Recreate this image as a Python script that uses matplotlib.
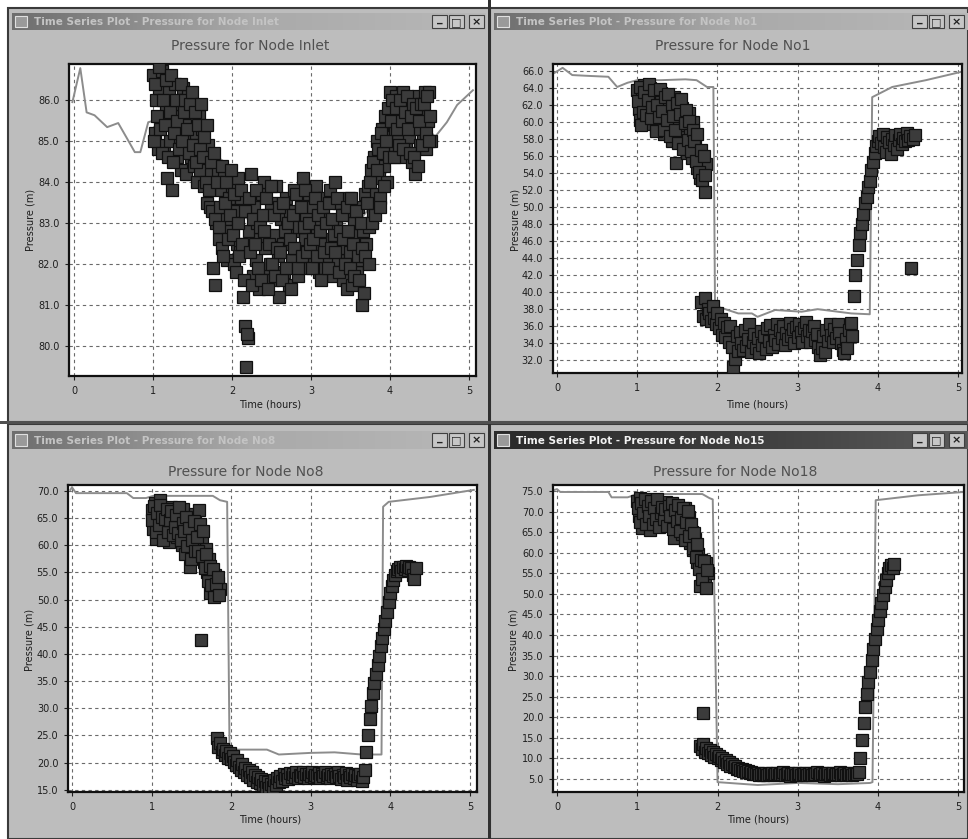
import numpy as np
import matplotlib
matplotlib.use("Agg")
import matplotlib.pyplot as plt
from matplotlib.patches import Rectangle
from matplotlib.colors import LinearSegmentedColormap
from matplotlib.ticker import FormatStrFormatter

# ---------------- data ----------------
hours_ticks = [0, 1, 2, 3, 4, 5]

# Node Inlet
inlet_sim_t = [-0.02, 0.08, 0.16, 0.26, 0.42, 0.56, 0.67, 0.77, 0.84, 0.94, 1.2, 1.5, 1.9,
               2.1, 2.5, 3.0, 3.5, 3.8, 4.1, 4.4, 4.57, 4.72, 4.85, 5.05]
inlet_sim_p = [85.95, 86.78, 85.7, 85.63, 85.34, 85.44, 85.07, 84.73, 84.73, 85.46, 85.6, 85.0, 84.5,
               83.2, 82.8, 82.9, 82.8, 83.5, 85.0, 85.5, 85.1, 85.46, 85.88, 86.24]
inlet_obs_t = [
    1.00, 1.02, 1.04, 1.06, 1.08, 1.10, 1.12, 1.14, 1.16, 1.18,
    1.20, 1.22, 1.24, 1.26, 1.28, 1.30, 1.32, 1.34, 1.36, 1.38,
    1.40, 1.42, 1.44, 1.46, 1.48, 1.50, 1.52, 1.54, 1.56, 1.58,
    1.60, 1.62, 1.64, 1.66, 1.68, 1.70, 1.72, 1.74, 1.76, 1.78,
    1.80, 1.82, 1.84, 1.86, 1.88, 1.90, 1.92, 1.94, 1.96, 1.98,
    2.00, 2.02, 2.04, 2.06, 2.08, 2.10, 2.12, 2.14, 2.16, 2.18,
    2.20, 2.22, 2.24, 2.26, 2.28, 2.30, 2.32, 2.34, 2.36, 2.38,
    2.40, 2.42, 2.44, 2.46, 2.48, 2.50, 2.52, 2.54, 2.56, 2.58,
    2.60, 2.62, 2.64, 2.66, 2.68, 2.70, 2.72, 2.74, 2.76, 2.78,
    2.80, 2.82, 2.84, 2.86, 2.88, 2.90, 2.92, 2.94, 2.96, 2.98,
    3.00, 3.02, 3.04, 3.06, 3.08, 3.10, 3.12, 3.14, 3.16, 3.18,
    3.20, 3.22, 3.24, 3.26, 3.28, 3.30, 3.32, 3.34, 3.36, 3.38,
    3.40, 3.42, 3.44, 3.46, 3.48, 3.50, 3.52, 3.54, 3.56, 3.58,
    3.60, 3.62, 3.64, 3.66, 3.68, 3.70, 3.72, 3.74, 3.76, 3.78,
    3.80, 3.82, 3.84, 3.86, 3.88, 3.90, 3.92, 3.94, 3.96, 3.98,
    4.00, 4.02, 4.04, 4.06, 4.08, 4.10, 4.12, 4.14, 4.16, 4.18,
    4.20, 4.22, 4.24, 4.26, 4.28, 4.30, 4.32, 4.34, 4.36, 4.38,
    4.40, 4.42, 4.44, 4.46, 4.48, 4.50, 4.52]
inlet_obs_p = [
    86.6, 85.2, 86.0, 84.8, 86.3, 85.5, 86.7, 84.9, 85.8, 84.1,
    86.2, 85.0, 83.8, 85.6, 86.4, 84.6, 85.9, 85.1, 84.3, 86.3,
    85.4, 84.2, 86.1, 85.0, 84.6, 85.8, 84.4, 85.2, 84.0, 85.6,
    84.3, 85.3, 83.9, 84.8, 83.5, 84.9, 83.4, 84.2, 81.9, 81.5,
    83.0, 84.3, 82.6, 83.8, 82.4, 84.2, 83.1, 82.1, 83.6, 82.8,
    83.9, 82.0, 83.3, 82.5, 84.1, 82.3, 83.6, 81.2, 80.5, 79.5,
    80.2, 82.8, 84.2, 81.7, 83.4, 82.1, 83.0, 81.4, 82.6, 83.7,
    84.0, 82.4, 81.9, 83.2, 82.0, 83.5, 81.6, 82.7, 83.9, 82.2,
    81.2, 83.1, 82.5, 81.8, 83.6, 82.9, 81.5, 83.3, 82.1, 83.8,
    82.4, 83.0, 81.7, 82.8, 83.5, 84.1, 82.6, 83.2, 81.9, 83.7,
    82.3, 83.4, 82.0, 83.9, 82.7, 81.8, 83.1, 82.5, 83.6, 81.9,
    83.0, 82.2, 83.8, 82.6, 81.7, 84.0, 82.9, 82.1, 83.5, 82.4,
    81.6, 83.2, 82.0, 81.4, 83.6, 82.3, 81.5, 83.0, 82.7, 81.8,
    83.4, 82.1, 81.0, 82.8, 83.7, 82.5, 83.9, 82.9, 84.3, 83.3,
    84.6, 83.7, 85.0, 84.1, 83.6, 85.3, 84.4, 85.6, 84.0, 85.1,
    86.2, 84.8, 85.7, 85.2, 86.1, 85.0, 85.9, 84.6, 86.2, 85.4,
    84.8, 85.8, 85.1, 86.0, 84.5, 85.6, 84.2, 85.3, 86.1, 84.9,
    85.7, 85.0, 86.2, 84.8, 85.5, 86.2, 85.0]
inlet_obs2_t = [
    1.01, 1.03, 1.05, 1.07, 1.09, 1.11, 1.13, 1.15, 1.17, 1.19,
    1.21, 1.23, 1.25, 1.27, 1.29, 1.31, 1.33, 1.35, 1.37, 1.39,
    1.41, 1.43, 1.45, 1.47, 1.49, 1.51, 1.53, 1.55, 1.57, 1.59,
    1.61, 1.63, 1.65, 1.67, 1.69, 1.71, 1.73, 1.75, 1.77, 1.79,
    1.81, 1.83, 1.85, 1.87, 1.89, 1.91, 1.93, 1.95, 1.97, 1.99,
    2.01, 2.03, 2.05, 2.07, 2.09, 2.11, 2.13, 2.15, 2.17, 2.19,
    2.21, 2.23, 2.25, 2.27, 2.29, 2.31, 2.33, 2.35, 2.37, 2.39,
    2.41, 2.43, 2.45, 2.47, 2.49, 2.51, 2.53, 2.55, 2.57, 2.59,
    2.61, 2.63, 2.65, 2.67, 2.69, 2.71, 2.73, 2.75, 2.77, 2.79,
    2.81, 2.83, 2.85, 2.87, 2.89, 2.91, 2.93, 2.95, 2.97, 2.99,
    3.01, 3.03, 3.05, 3.07, 3.09, 3.11, 3.13, 3.15, 3.17, 3.19,
    3.21, 3.23, 3.25, 3.27, 3.29, 3.31, 3.33, 3.35, 3.37, 3.39,
    3.41, 3.43, 3.45, 3.47, 3.49, 3.51, 3.53, 3.55, 3.57, 3.59,
    3.61, 3.63, 3.65, 3.67, 3.69, 3.71, 3.73, 3.75, 3.77, 3.79,
    3.81, 3.83, 3.85, 3.87, 3.89, 3.91, 3.93, 3.95, 3.97, 3.99,
    4.01, 4.03, 4.05, 4.07, 4.09, 4.11, 4.13, 4.15, 4.17, 4.19,
    4.21, 4.23, 4.25, 4.27, 4.29, 4.31, 4.33, 4.35, 4.37, 4.39,
    4.41, 4.43, 4.45, 4.47, 4.49, 4.51]
inlet_obs2_p = [
    85.0, 86.4, 85.6, 86.8, 85.3, 84.7, 86.0, 85.4, 86.5, 84.6,
    85.7, 86.6, 84.5, 85.2, 86.0, 85.5, 84.8, 86.4, 85.0, 85.7,
    86.0, 85.3, 84.7, 85.9, 86.2, 84.9, 85.7, 84.5, 85.4, 84.8,
    85.9, 84.6, 85.1, 84.0, 85.4, 83.8, 84.5, 83.3, 84.7, 83.1,
    84.0, 82.9, 83.4, 84.4, 82.2, 83.5, 84.0, 82.6, 83.2, 84.3,
    82.7, 83.7, 81.8, 83.0, 82.2, 83.8, 82.5, 81.6, 83.3, 80.3,
    83.6, 82.3, 81.5, 83.1, 82.5, 83.8, 81.9, 82.9, 81.6, 83.2,
    82.8, 83.6, 81.4, 82.5, 83.9, 82.0, 83.2, 81.7, 82.4, 83.4,
    82.3, 81.6, 83.5, 82.8, 81.9, 83.0, 82.6, 81.4, 83.2, 82.4,
    83.7, 81.9, 82.9, 83.4, 82.2, 82.9, 83.8, 82.3, 83.0, 82.5,
    81.9, 82.6, 83.6, 82.2, 83.2, 82.8, 81.6, 83.4, 82.3, 83.0,
    81.9, 83.5, 82.4, 83.1, 82.7, 82.3, 83.6, 81.8, 82.8, 83.2,
    82.6, 82.0, 83.4, 82.8, 81.9, 83.6, 82.5, 81.7, 83.3, 82.2,
    81.6, 83.0, 82.4, 81.3, 82.2, 83.5, 82.0, 84.0, 83.0, 84.5,
    83.2, 84.3, 84.8, 83.4, 85.2, 84.7, 83.9, 85.0, 85.8, 84.6,
    85.5, 86.0, 84.6, 85.8, 85.3, 84.9, 86.0, 85.5, 84.8, 85.7,
    86.1, 85.3, 84.7, 85.6, 85.9, 84.6, 85.8, 84.4, 85.5, 85.9,
    84.9, 85.9, 85.2, 86.1, 85.0, 85.6]

# Node No1
no1_sim_t = [-0.03, 0.07, 0.19, 0.40, 0.64, 0.75, 0.88, 1.0, 1.3, 1.6, 1.74, 1.87, 1.95, 1.97,
             2.0, 2.26, 2.43, 2.5, 2.72, 3.05, 3.25, 3.67, 3.90, 3.93, 4.18, 4.6, 5.05]
no1_sim_p = [65.76, 66.35, 65.5, 65.4, 65.3, 64.1, 64.6, 64.9, 64.9, 65.0, 64.9, 64.1, 64.1, 38.5,
             38.3, 37.5, 37.5, 37.1, 37.9, 37.7, 38.0, 37.5, 37.4, 62.9, 64.1, 64.9, 65.9]
no1_obs_t = [
    1.00, 1.02, 1.04, 1.06, 1.08, 1.10, 1.12, 1.14, 1.16, 1.18,
    1.20, 1.22, 1.24, 1.26, 1.28, 1.30, 1.32, 1.34, 1.36, 1.38,
    1.40, 1.42, 1.44, 1.46, 1.48, 1.50, 1.52, 1.54, 1.56, 1.58,
    1.60, 1.62, 1.64, 1.66, 1.68, 1.70, 1.72, 1.74, 1.76, 1.78,
    1.80, 1.82, 1.84, 1.86,
    1.80, 1.82, 1.84, 1.86, 1.88, 1.90, 1.92, 1.94, 1.96, 1.98,
    2.00, 2.02, 2.04, 2.06, 2.08, 2.10, 2.12, 2.14, 2.16, 2.18,
    2.20, 2.22, 2.24, 2.26, 2.28, 2.30, 2.32, 2.34, 2.36, 2.38,
    2.40, 2.42, 2.44, 2.46, 2.48, 2.50, 2.52, 2.54, 2.56, 2.58,
    2.60, 2.62, 2.64, 2.66, 2.68, 2.70, 2.72, 2.74, 2.76, 2.78,
    2.80, 2.82, 2.84, 2.86, 2.88, 2.90, 2.92, 2.94, 2.96, 2.98,
    3.00, 3.02, 3.04, 3.06, 3.08, 3.10, 3.12, 3.14, 3.16, 3.18,
    3.20, 3.22, 3.24, 3.26, 3.28, 3.30, 3.32, 3.34, 3.36, 3.38,
    3.40, 3.42, 3.44, 3.46, 3.48, 3.50, 3.52, 3.54, 3.56, 3.58,
    3.60, 3.62, 3.64, 3.66, 3.68, 3.70, 3.72, 3.74, 3.76, 3.78,
    3.80, 3.82, 3.84, 3.86, 3.88, 3.90, 3.92, 3.94, 3.96, 3.98,
    4.00, 4.02, 4.04, 4.06, 4.08, 4.10, 4.12, 4.14, 4.16, 4.18,
    4.20, 4.22, 4.24, 4.26, 4.28, 4.30, 4.32, 4.34, 4.36, 4.38,
    4.40, 4.42, 4.44, 4.46]
no1_obs_p = [
    63.8, 61.5, 60.2, 62.7, 64.3, 63.0, 59.8, 61.9, 64.0, 62.2,
    60.5, 63.1, 59.2, 61.4, 62.8, 63.4, 60.0, 58.6, 61.7, 62.5,
    59.4, 61.0, 57.8, 62.9, 55.2, 60.3, 62.4, 58.2, 61.6, 57.0,
    59.6, 56.3, 61.0, 58.7, 55.8, 60.0, 57.4, 54.6, 56.2, 53.4,
    55.5, 54.0, 51.8, 55.0,
    38.8, 37.2, 39.3, 36.8, 38.0, 37.5, 36.6, 38.4, 37.0, 36.3,
    37.6, 35.8, 36.9, 35.0, 36.4, 34.7, 35.9, 34.2, 36.0, 33.5,
    31.2, 32.2, 34.8, 33.1, 35.3, 34.0, 33.2, 35.6, 33.7, 34.5,
    36.2, 33.0, 34.1, 35.1, 33.4, 34.6, 32.9, 35.4, 33.8, 34.9,
    33.3, 35.8, 34.3, 36.1, 33.6, 35.0, 34.4, 36.3, 33.9, 35.5,
    34.6, 36.0, 33.8, 35.2, 34.5, 36.4, 34.9, 35.7, 34.0, 35.9,
    34.7, 36.2, 35.3, 34.2, 35.8, 36.5, 34.8, 35.6, 34.1, 35.4,
    36.0, 34.4, 35.1, 33.6, 32.6, 33.4, 34.9, 33.0, 35.5, 34.3,
    36.2, 35.0, 34.1, 35.7, 34.6, 36.3, 35.2, 34.0, 33.2, 32.9,
    34.5, 33.4, 35.6, 36.4, 34.8, 39.5, 42.0, 43.8, 45.5, 47.0,
    48.0, 49.2, 50.5, 51.2, 52.3, 53.0, 54.4, 55.3, 56.4, 57.2,
    57.8, 58.3, 57.5, 58.6, 57.0, 56.5, 58.2, 57.6, 56.2, 58.0,
    57.3, 58.5, 56.8, 57.9, 58.6, 57.4, 58.1, 57.7, 58.7, 57.9,
    58.4, 42.8, 58.0, 58.5]
no1_obs2_t = [
    1.01, 1.03, 1.05, 1.07, 1.09, 1.11, 1.13, 1.15, 1.17, 1.19,
    1.21, 1.23, 1.25, 1.27, 1.29, 1.31, 1.33, 1.35, 1.37, 1.39,
    1.41, 1.43, 1.45, 1.47, 1.49, 1.51, 1.53, 1.55, 1.57, 1.59,
    1.61, 1.63, 1.65, 1.67, 1.69, 1.71, 1.73, 1.75, 1.77, 1.79,
    1.81, 1.83, 1.85]
no1_obs2_p = [
    62.4, 64.1, 59.6, 61.2, 63.5, 60.8, 62.6, 64.5, 60.4, 61.8,
    63.7, 58.9, 62.0, 60.6, 63.9, 61.3, 59.1, 62.9, 60.2, 63.3,
    58.3, 61.9, 60.7, 59.0, 62.2, 57.5, 60.9, 62.7, 56.8, 59.9,
    61.4, 57.9, 60.1, 56.6, 59.1, 57.8, 55.4, 58.6, 54.1, 56.7,
    53.2, 56.0, 53.8]

# Node No8
no8_sim_t = [-0.02, 0.0, 0.05, 0.69, 0.77, 0.93, 1.02, 1.77, 1.86, 1.95, 1.98, 2.45, 2.6,
             3.0, 3.3, 3.64, 3.89, 3.91, 3.98, 4.5, 5.05]
no8_sim_p = [70.2, 70.7, 69.6, 69.6, 68.7, 68.7, 69.1, 69.1, 68.3, 68.0, 22.4, 22.4, 21.5,
             21.8, 21.9, 21.5, 21.5, 67.1, 68.0, 68.9, 70.2]
no8_obs_t = [
    1.00, 1.02, 1.04, 1.06, 1.08, 1.10, 1.12, 1.14, 1.16, 1.18,
    1.20, 1.22, 1.24, 1.26, 1.28, 1.30, 1.32, 1.34, 1.36, 1.38,
    1.40, 1.42, 1.44, 1.46, 1.48, 1.50, 1.52, 1.54, 1.56, 1.58,
    1.60, 1.62, 1.64, 1.66, 1.68, 1.70, 1.72, 1.74, 1.76, 1.78,
    1.80, 1.82, 1.84, 1.86,
    1.82, 1.84, 1.86, 1.88, 1.90, 1.92, 1.94, 1.96, 1.98, 2.00,
    2.02, 2.04, 2.06, 2.08, 2.10, 2.12, 2.14, 2.16, 2.18, 2.20,
    2.22, 2.24, 2.26, 2.28, 2.30, 2.32, 2.34, 2.36, 2.38, 2.40,
    2.42, 2.44, 2.46, 2.48, 2.50, 2.52, 2.54, 2.56, 2.58, 2.60,
    2.62, 2.64, 2.66, 2.68, 2.70, 2.72, 2.74, 2.76, 2.78, 2.80,
    2.82, 2.84, 2.86, 2.88, 2.90, 2.92, 2.94, 2.96, 2.98, 3.00,
    3.02, 3.04, 3.06, 3.08, 3.10, 3.12, 3.14, 3.16, 3.18, 3.20,
    3.22, 3.24, 3.26, 3.28, 3.30, 3.32, 3.34, 3.36, 3.38, 3.40,
    3.42, 3.44, 3.46, 3.48, 3.50, 3.52, 3.54, 3.56, 3.58, 3.60,
    3.62, 3.64, 3.66, 3.68, 3.70, 3.72, 3.74, 3.76, 3.78, 3.80,
    3.82, 3.84, 3.86, 3.88, 3.90, 3.92, 3.94, 3.96, 3.98, 4.00,
    4.02, 4.04, 4.06, 4.08, 4.10, 4.12, 4.14, 4.16, 4.18, 4.20,
    4.22, 4.24, 4.26, 4.28, 4.30, 4.32]
no8_obs_p = [
    66.5, 63.0, 67.8, 61.2, 65.4, 68.3, 64.0, 62.3, 66.8, 63.7,
    65.9, 60.6, 67.0, 62.8, 64.8, 66.2, 61.5, 65.0, 63.3, 60.0,
    66.6, 58.4, 64.2, 61.8, 56.0, 63.5, 59.5, 65.7, 57.8, 62.0,
    66.5, 42.6, 60.8, 56.9, 59.3, 55.0, 57.5, 51.2, 53.9, 52.2,
    54.6, 50.8, 53.0, 51.9,
    24.5, 22.8, 23.7, 21.9, 22.6, 21.4, 22.2, 20.9, 21.7, 20.6,
    21.3, 20.1, 19.6, 20.4, 19.2, 18.7, 19.8, 18.3, 19.0, 17.8,
    18.6, 17.4, 18.2, 16.9, 17.7, 16.5, 17.3, 16.2, 17.0, 15.8,
    16.6, 15.6, 16.4, 15.3, 16.1, 15.5, 16.8, 15.9, 17.2, 16.4,
    17.6, 16.7, 17.9, 17.1, 17.8, 17.0, 18.1, 17.3, 17.9, 17.4,
    18.2, 17.2, 17.8, 17.5, 18.3, 17.4, 17.9, 17.1, 18.0, 17.6,
    18.2, 17.3, 17.8, 17.5, 18.1, 17.2, 17.9, 17.6, 18.3, 17.4,
    17.8, 17.1, 18.0, 17.5, 17.9, 17.3, 18.2, 17.6, 17.0, 17.8,
    17.4, 18.1, 16.9, 17.7, 17.3, 18.0, 17.2, 17.8, 16.8, 17.5,
    17.9, 16.7, 17.4, 18.6, 22.0, 25.0, 28.0, 30.4, 32.9, 34.6,
    36.3, 38.0, 39.6, 41.5, 43.0, 44.6, 46.0, 47.8, 49.6, 51.2,
    52.6, 53.6, 54.5, 55.2, 55.7, 56.0, 55.3, 56.1, 55.6, 56.2,
    55.4, 56.0, 55.8, 54.6, 53.8, 55.9]
no8_obs2_t = [
    1.01, 1.03, 1.05, 1.07, 1.09, 1.11, 1.13, 1.15, 1.17, 1.19,
    1.21, 1.23, 1.25, 1.27, 1.29, 1.31, 1.33, 1.35, 1.37, 1.39,
    1.41, 1.43, 1.45, 1.47, 1.49, 1.51, 1.53, 1.55, 1.57, 1.59,
    1.61, 1.63, 1.65, 1.67, 1.69, 1.71, 1.73, 1.75, 1.77, 1.79,
    1.81, 1.83, 1.85]
no8_obs2_p = [
    64.6, 67.2, 62.4, 66.0, 63.8, 67.4, 65.2, 61.0, 64.9, 66.7,
    62.5, 64.6, 66.4, 61.9, 63.4, 65.6, 62.2, 67.1, 60.9, 64.1,
    62.7, 65.2, 59.8, 63.1, 57.4, 61.0, 64.4, 58.9, 61.5, 59.0,
    63.9, 58.1, 62.6, 55.8, 58.4, 53.4, 56.2, 52.7, 55.6, 50.4,
    52.8, 54.1, 50.9]

# Node No18
no18_sim_t = [-0.05, 0.0, 0.04, 0.64, 0.68, 0.88, 1.0, 1.81, 1.9, 1.94, 2.0, 2.5, 3.0, 3.5,
              3.9, 3.93, 3.97, 4.5, 5.07]
no18_sim_p = [75.2, 75.5, 74.8, 74.8, 73.5, 73.5, 74.3, 74.3, 73.3, 73.0, 4.2, 3.5, 4.0, 3.7,
              4.0, 4.2, 72.8, 74.0, 74.8]
no18_obs_t = [
    1.00, 1.02, 1.04, 1.06, 1.08, 1.10, 1.12, 1.14, 1.16, 1.18,
    1.20, 1.22, 1.24, 1.26, 1.28, 1.30, 1.32, 1.34, 1.36, 1.38,
    1.40, 1.42, 1.44, 1.46, 1.48, 1.50, 1.52, 1.54, 1.56, 1.58,
    1.60, 1.62, 1.64, 1.66, 1.68, 1.70, 1.72, 1.74, 1.76, 1.78,
    1.80, 1.82, 1.84, 1.86, 1.88,
    1.78, 1.80, 1.82, 1.84, 1.86, 1.88, 1.90, 1.92, 1.94, 1.96,
    1.98, 2.00, 2.02, 2.04, 2.06, 2.08, 2.10, 2.12, 2.14, 2.16,
    2.18, 2.20, 2.22, 2.24, 2.26, 2.28, 2.30, 2.32, 2.34, 2.36,
    2.38, 2.40, 2.42, 2.44, 2.46, 2.48, 2.50, 2.52, 2.54, 2.56,
    2.58, 2.60, 2.62, 2.64, 2.66, 2.68, 2.70, 2.72, 2.74, 2.76,
    2.78, 2.80, 2.82, 2.84, 2.86, 2.88, 2.90, 2.92, 2.94, 2.96,
    2.98, 3.00, 3.02, 3.04, 3.06, 3.08, 3.10, 3.12, 3.14, 3.16,
    3.18, 3.20, 3.22, 3.24, 3.26, 3.28, 3.30, 3.32, 3.34, 3.36,
    3.38, 3.40, 3.42, 3.44, 3.46, 3.48, 3.50, 3.52, 3.54, 3.56,
    3.58, 3.60, 3.62, 3.64, 3.66, 3.68, 3.70, 3.72, 3.74, 3.76,
    3.78, 3.80, 3.82, 3.84, 3.86, 3.88, 3.90, 3.92, 3.94, 3.96,
    3.98, 4.00, 4.02, 4.04, 4.06, 4.08, 4.10, 4.12, 4.14, 4.16,
    4.18, 4.20]
no18_obs_p = [
    72.5, 69.0, 73.3, 66.0, 71.2, 68.4, 72.8, 70.1, 65.5, 71.6,
    69.3, 72.2, 67.4, 70.6, 68.0, 71.9, 66.8, 69.8, 72.4, 67.9,
    70.3, 68.6, 71.3, 63.5, 69.2, 66.4, 70.0, 67.2, 64.6, 69.5,
    71.0, 66.2, 68.8, 62.5, 65.0, 60.8, 63.4, 57.8, 59.6, 52.0,
    56.3, 21.0, 54.0, 57.4, 55.2,
    13.0, 12.2, 13.4, 11.6, 12.6, 11.2, 12.0, 10.8, 11.5, 10.4,
    11.0, 10.0, 10.6, 9.5, 10.0, 9.1, 9.5, 8.6, 9.0, 8.2,
    8.6, 7.8, 8.1, 7.5, 7.7, 7.2, 7.4, 6.9, 7.1, 6.7,
    6.9, 6.5, 6.7, 6.3, 6.5, 6.2, 6.4, 6.0, 6.3, 5.9,
    6.2, 6.5, 6.0, 6.3, 6.1, 6.4, 5.9, 6.2, 6.5, 6.0,
    6.3, 6.1, 6.6, 6.0, 6.2, 6.4, 5.8, 6.3, 6.1, 6.5,
    6.0, 6.2, 6.4, 5.9, 6.3, 6.1, 6.5, 6.0, 6.2, 6.4,
    5.9, 6.3, 6.1, 6.6, 6.0, 6.2, 6.4, 5.8, 6.3, 6.1,
    6.5, 6.0, 6.2, 6.4, 5.9, 6.3, 6.1, 6.6, 6.0, 6.2,
    6.4, 5.9, 6.3, 6.1, 6.5, 6.0, 6.2, 6.4, 6.1, 6.6,
    10.0, 14.4, 18.5, 22.5, 25.6, 28.5, 31.0, 33.9, 36.5, 39.0,
    41.4, 43.6, 45.8, 47.9, 49.8, 51.6, 53.5, 55.0, 56.3, 57.0,
    56.4, 57.2]
no18_obs2_t = [
    1.01, 1.03, 1.05, 1.07, 1.09, 1.11, 1.13, 1.15, 1.17, 1.19,
    1.21, 1.23, 1.25, 1.27, 1.29, 1.31, 1.33, 1.35, 1.37, 1.39,
    1.41, 1.43, 1.45, 1.47, 1.49, 1.51, 1.53, 1.55, 1.57, 1.59,
    1.61, 1.63, 1.65, 1.67, 1.69, 1.71, 1.73, 1.75, 1.77, 1.79,
    1.81, 1.83, 1.85, 1.87]
no18_obs2_p = [
    70.8, 67.5, 72.0, 69.6, 73.0, 66.9, 71.4, 68.9, 72.6, 67.0,
    70.9, 68.2, 73.0, 66.3, 69.7, 71.2, 68.3, 70.7, 66.5, 71.5,
    69.0, 72.0, 65.9, 70.4, 67.8, 71.6, 65.3, 68.4, 70.8, 63.0,
    67.6, 70.2, 64.1, 66.9, 61.2, 64.7, 58.9, 62.2, 56.0, 58.2,
    53.6, 57.9, 51.5, 55.9]

for a, b in [(inlet_obs_t, inlet_obs_p), (no1_obs_t, no1_obs_p),
             (no8_obs_t, no8_obs_p), (no18_obs_t, no18_obs_p),
             (inlet_obs2_t, inlet_obs2_p), (no1_obs2_t, no1_obs2_p),
             (no8_obs2_t, no8_obs2_p), (no18_obs2_t, no18_obs2_p)]:
    assert len(a) == len(b), (len(a), len(b))

titles = ["Pressure for Node Inlet", "Pressure for Node No1",
          "Pressure for Node No8", "Pressure for Node No18"]
win_titles = ["Time Series Plot - Pressure for Node Inlet",
              "Time Series Plot - Pressure for Node No1",
              "Time Series Plot - Pressure for Node No8",
              "Time Series Plot - Pressure for Node No15"]
inlet_yticks = [80, 81, 82, 83, 84, 85, 86]
no1_yticks = [32, 34, 36, 38, 40, 42, 44, 46, 48, 50, 52, 54, 56, 58, 60, 62, 64, 66]
no8_yticks = [15, 20, 25, 30, 35, 40, 45, 50, 55, 60, 65, 70]
no18_yticks = [5, 10, 15, 20, 25, 30, 35, 40, 45, 50, 55, 60, 65, 70, 75]

# ---------------- layout ----------------
W, H = 968, 839
fig = plt.figure(figsize=(W / 100, H / 100), dpi=100)
fig.patch.set_facecolor('white')

bg = fig.add_axes([0, 0, 1, 1])
bg.set_xlim(0, W)
bg.set_ylim(H, 0)
bg.axis('off')


def fx(x):
    return x / W


def fy(y):
    return 1 - y / H


def rect(x0, y0, x1, y1):
    return [x0 / W, 1 - y1 / H, (x1 - x0) / W, (y1 - y0) / H]


inactive = LinearSegmentedColormap.from_list('ina', ['#6e6e6e', '#a9a9a9', '#b8b8b8'])
active = LinearSegmentedColormap.from_list('act', ['#2a2a2a', '#3c3c3c', '#5a5a5a'])
grad = np.linspace(0, 1, 256)[None, :]

windows = [
    ((8, 8, 490, 422), (12, 13, 486, 30), False),
    ((490, 8, 968, 422), (494, 13, 968, 30), False),
    ((8, 424, 490, 839), (12, 431, 486, 449), False),
    ((490, 424, 968, 839), (494, 431, 968, 449), True),
]
for i, (wb, tb, act) in enumerate(windows):
    x0, y0, x1, y1 = wb
    bg.add_patch(Rectangle((x0, y0), x1 - x0, y1 - y0, facecolor='#bdbdbd',
                           edgecolor='#3a3a3a', lw=1.5, zorder=1))
    tx0, ty0, tx1, ty1 = tb
    bg.imshow(grad, extent=(tx0, tx1, ty1, ty0), aspect='auto',
              cmap=active if act else inactive, zorder=2)
    bg.add_patch(Rectangle((tx0 + 3, ty0 + 3), 12, ty1 - ty0 - 6, facecolor='#9a9a9a',
                           edgecolor='#e0e0e0', lw=0.8, zorder=3))
    bg.text(tx0 + 22, (ty0 + ty1) / 2 + 0.5, win_titles[i], fontsize=7.5,
            fontweight='bold', color='#f2f2f2' if act else '#c4c4c4',
            va='center', ha='left', zorder=4)
    bx = min(tx1, 966) - 54
    for k, g in enumerate(['_', '\u25a1', '\u00d7']):
        gx = bx + k * 17 + (3 if k == 2 else 0)
        bg.add_patch(Rectangle((gx, ty0 + 2), 15, ty1 - ty0 - 4, facecolor='#c6c6c6',
                               edgecolor='#404040', lw=0.8, zorder=3))
        bg.text(gx + 7.5, (ty0 + ty1) / 2 + (-2 if k == 0 else 0.5), g, fontsize=8,
                color='#202020', ha='center', va='center', zorder=4, fontweight='bold')

bg.add_patch(Rectangle((488, 0), 3, H, facecolor='#303030', zorder=5))
bg.add_patch(Rectangle((0, 421), W, 3, facecolor='#505050', zorder=5))
bg.set_xlim(0, W)
bg.set_ylim(H, 0)

panels = [
    dict(box=(69, 64, 476, 376), xlim=(-0.063, 5.089), ylim=(79.27, 86.88),
         yticks=inlet_yticks, sim=(inlet_sim_t, inlet_sim_p),
         obs=[(inlet_obs_t, inlet_obs_p), (inlet_obs2_t, inlet_obs2_p)],
         title_xy=(250, 46), xl=(270, 405), yl=(31, 220)),
    dict(box=(553, 64, 962, 373), xlim=(-0.05, 5.05), ylim=(30.5, 66.8),
         yticks=no1_yticks, sim=(no1_sim_t, no1_sim_p),
         obs=[(no1_obs_t, no1_obs_p), (no1_obs2_t, no1_obs2_p)],
         title_xy=(733, 46), xl=(757, 405), yl=(515, 220)),
    dict(box=(68, 485, 477, 792), xlim=(-0.05, 5.09), ylim=(14.6, 71.1),
         yticks=no8_yticks, sim=(no8_sim_t, no8_sim_p),
         obs=[(no8_obs_t, no8_obs_p), (no8_obs2_t, no8_obs2_p)],
         title_xy=(246, 472), xl=(270, 820), yl=(29, 640)),
    dict(box=(553, 485, 964, 792), xlim=(-0.05, 5.07), ylim=(1.8, 76.5),
         yticks=no18_yticks, sim=(no18_sim_t, no18_sim_p),
         obs=[(no18_obs_t, no18_obs_p), (no18_obs2_t, no18_obs2_p)],
         title_xy=(735, 472), xl=(758, 820), yl=(513, 640)),
]

for i, p in enumerate(panels):
    ax = fig.add_axes(rect(*p['box']))
    ax.set_facecolor('white')
    ax.set_xlim(*p['xlim'])
    ax.set_ylim(*p['ylim'])
    ax.set_xticks(hours_ticks)
    ax.set_yticks(p['yticks'])
    ax.yaxis.set_major_formatter(FormatStrFormatter('%.1f'))
    ax.tick_params(labelsize=7, colors='#1e1e1e', length=3, width=0.8, pad=4)
    ax.grid(True, color='#6a6a6a', linestyle=(0, (3, 3)), linewidth=0.8)
    ax.set_axisbelow(True)
    for s in ax.spines.values():
        s.set_color('#101010')
        s.set_linewidth(1.6)
    st, sp = p['sim']
    ax.plot(st, sp, color='#8c8c8c', lw=1.4, zorder=2)
    for ot, op in p['obs']:
        ax.plot(ot, op, ls='none', marker='s', ms=8.2, mfc='#3b3b3b', mec='#101010',
                mew=0.9, zorder=3)
    tx, ty = p['title_xy']
    fig.text(fx(tx), fy(ty), titles[i], fontsize=10, color='#505050', ha='center', va='center')
    xx, xy = p['xl']
    fig.text(fx(xx), fy(xy), 'Time (hours)', fontsize=7, color='#1e1e1e', ha='center', va='center')
    yx, yy = p['yl']
    fig.text(fx(yx), fy(yy), 'Pressure (m)', fontsize=7, color='#1e1e1e', ha='center',
             va='center', rotation=90)

fig.savefig('out.png', dpi=100)
